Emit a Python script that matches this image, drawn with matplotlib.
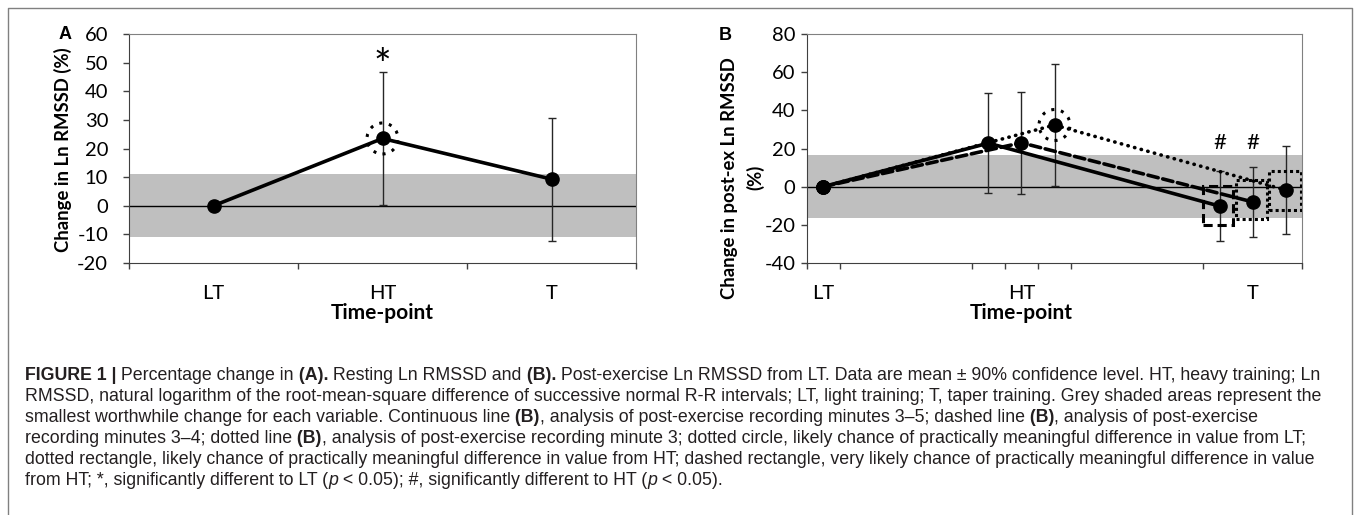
import numpy as np
import matplotlib
matplotlib.use('Agg')
import matplotlib.pyplot as plt
from matplotlib import patches, transforms
from matplotlib.lines import Line2D

W, H, DPI = 1357, 515, 100
CHART_FONT = 'Lato'
CAPTION_FONT = 'Liberation Sans'
plt.rcParams['axes.unicode_minus'] = False

# Panel A: resting Ln RMSSD, % change from LT (mean, 90% CL)
A_CATS = ['LT', 'HT', 'T']
A_MEAN = [0.0, 23.5, 9.3]
A_CI = [0.0, 23.2, 21.5]
A_SWC = 11.0
A_STAR = 52.7

# Panel B: post-exercise Ln RMSSD, x axis has 15 category slots
B_CATS = ['LT', 'HT', 'T']
B_CAT_SLOT = [0.5, 6.5, 13.5]
B_TICKS = [0, 1, 5, 6, 7, 8, 12, 15]
B_SLOT_35 = [0.5, 5.5, 12.5]
B_MEAN_35 = [0.0, 22.8, -10.2]
B_CI_35 = [0.0, 26.3, 18.2]
B_SLOT_34 = [0.5, 6.5, 13.5]
B_MEAN_34 = [0.0, 23.0, -8.0]
B_CI_34 = [0.0, 26.6, 18.3]
B_SLOT_3 = [0.5, 7.5, 14.5]
B_MEAN_3 = [0.0, 32.3, -1.8]
B_CI_3 = [0.0, 31.8, 23.2]
B_SWC = 16.6
B_HASH_SLOT = [12.5, 13.5]
B_HASH_Y = 23.0
# rectangles: x0, x1, y0, y1, style
B_RECTS = [(12.0, 12.9, -20.1, 0.4, 'dashed'),
           (13.0, 13.92, -17.1, 3.5, 'dotted'),
           (14.0, 14.95, -12.2, 8.4, 'dotted')]

CAPTION = [
    [('FIGURE 1 |', 'bold', 'normal'), (' Percentage change in', 'normal', 'normal'), (' (A).', 'bold', 'normal'),
     (' Resting Ln RMSSD and', 'normal', 'normal'), (' (B).', 'bold', 'normal'),
     (' Post-exercise Ln RMSSD from LT. Data are mean \u00b1 90% confidence level. HT, heavy training; Ln', 'normal', 'normal')],
    [('RMSSD, natural logarithm of the root-mean-square difference of successive normal R-R intervals; LT, light training; T, taper training. Grey shaded areas represent the', 'normal', 'normal')],
    [('smallest worthwhile change for each variable. Continuous line', 'normal', 'normal'), (' (B)', 'bold', 'normal'),
     (', analysis of post-exercise recording minutes 3\u20135; dashed line', 'normal', 'normal'), (' (B)', 'bold', 'normal'),
     (', analysis of post-exercise', 'normal', 'normal')],
    [('recording minutes 3\u20134; dotted line', 'normal', 'normal'), (' (B)', 'bold', 'normal'),
     (', analysis of post-exercise recording minute 3; dotted circle, likely chance of practically meaningful difference in value from LT;', 'normal', 'normal')],
    [('dotted rectangle, likely chance of practically meaningful difference in value from HT; dashed rectangle, very likely chance of practically meaningful difference in value', 'normal', 'normal')],
    [('from HT; *, significantly different to LT (', 'normal', 'normal'), ('p', 'normal', 'italic'),
     (' < 0.05); #, significantly different to HT (', 'normal', 'normal'), ('p', 'normal', 'italic'),
     (' < 0.05).', 'normal', 'normal')],
]

DOTTED = (0, (0.1, 1.8))
DASHED = (0, (2.9, 1.3))
TICK_SIZE = 14.5
LABEL_SIZE = 13.3


def fx(x):
    return x / W


def fy(y):
    return 1 - y / H


def style_axes(ax, ypad):
    '''Excel-like frame and ticks'''
    for side in ('left', 'bottom'):
        ax.spines[side].set_color('#404040')
    for side in ('top', 'right'):
        ax.spines[side].set_color('#808080')
    ax.tick_params(axis='both', which='major', direction='out', length=4, width=1, color='#404040')
    ax.tick_params(axis='y', labelsize=TICK_SIZE, pad=ypad)
    ax.tick_params(axis='x', which='major', labelbottom=False)
    ax.tick_params(axis='x', which='minor', length=0, labelsize=TICK_SIZE, pad=15.5)
    for lab in ax.get_yticklabels() + ax.get_xticklabels(minor=True):
        lab.set_family(CHART_FONT)


def dotted_circle(fig, ax, x, y):
    '''Dotted circle of fixed size around a point'''
    trans = fig.dpi_scale_trans + transforms.ScaledTranslation(x, y, ax.transData)
    ax.add_patch(patches.Circle((0, 0), 0.155, transform=trans, fill=False,
                                lw=2.2, ls=(0, (1, 2.2)), color='black', zorder=4))


def draw_series(ax, x, mean, ci, ls):
    ax.errorbar(x[1:], mean[1:], yerr=ci[1:], fmt='none', ecolor='#262626',
                elinewidth=1, capsize=3, capthick=1, zorder=2)
    ax.plot(x, mean, color='black', lw=2.6, ls=ls, marker='o', ms=9.5,
            dash_capstyle='round', zorder=3)


def panel_a(fig):
    ax = fig.add_axes([fx(129), fy(263), fx(636) - fx(129), fy(34) - fy(263)])
    pos = np.arange(len(A_CATS)) + 0.5
    ax.axhspan(-A_SWC, A_SWC, color='#bfbfbf', lw=0, zorder=0)
    ax.axhline(0, color='black', lw=1, zorder=1)
    draw_series(ax, pos, A_MEAN, A_CI, '-')
    dotted_circle(fig, ax, pos[1], A_MEAN[1])
    ax.annotate('*', (pos[1], A_STAR), xytext=(0, -9), textcoords='offset points',
                ha='center', va='center', fontsize=30, family=CHART_FONT)
    ax.set_xlim(0, len(A_CATS))
    ax.set_ylim(-20, 60)
    ax.set_yticks(range(-20, 61, 10))
    ax.set_xticks(range(len(A_CATS) + 1))
    ax.set_xticks(pos, A_CATS, minor=True)
    style_axes(ax, 11)
    fig.text(fx(62.5), fy(150), 'Change in Ln RMSSD (%)', rotation=90, ha='center', va='center',
             fontsize=LABEL_SIZE, fontweight='bold', family=CHART_FONT)
    fig.text(fx(382), fy(313), 'Time-point', ha='center', va='center',
             fontsize=15, fontweight='bold', family=CHART_FONT)
    fig.text(fx(65), fy(34.5), 'A', ha='center', va='center', fontsize=13,
             fontweight='bold', family=CAPTION_FONT)


def panel_b(fig):
    ax = fig.add_axes([fx(806.7), fy(263), fx(1302.3) - fx(806.7), fy(34) - fy(263)])
    ax.axhspan(-B_SWC, B_SWC, color='#bfbfbf', lw=0, zorder=0)
    ax.axhline(0, color='black', lw=1, zorder=1)
    draw_series(ax, B_SLOT_35, B_MEAN_35, B_CI_35, '-')
    draw_series(ax, B_SLOT_34, B_MEAN_34, B_CI_34, DASHED)
    draw_series(ax, B_SLOT_3, B_MEAN_3, B_CI_3, DOTTED)
    dotted_circle(fig, ax, B_SLOT_3[1], B_MEAN_3[1])
    for x0, x1, y0, y1, kind in B_RECTS:
        ls = (0, (3, 1.6)) if kind == 'dashed' else (0, (1, 1))
        ax.add_patch(patches.Rectangle((x0, y0), x1 - x0, y1 - y0, fill=False,
                                       lw=2.2, ls=ls, color='black', zorder=4))
    for x in B_HASH_SLOT:
        ax.text(x, B_HASH_Y, '#', ha='center', va='center', fontsize=16, family=CHART_FONT)
    ax.set_xlim(0, 15)
    ax.set_ylim(-40, 80)
    ax.set_yticks(range(-40, 81, 20))
    ax.set_xticks(B_TICKS)
    ax.set_xticks(B_CAT_SLOT, B_CATS, minor=True)
    style_axes(ax, 4)
    fig.text(fx(730), fy(178), 'Change in post-ex Ln RMSSD', rotation=90, ha='center', va='center',
             fontsize=LABEL_SIZE, fontweight='bold', family=CHART_FONT)
    fig.text(fx(755), fy(177), '(%)', rotation=90, ha='center', va='center',
             fontsize=LABEL_SIZE, fontweight='bold', family=CHART_FONT)
    fig.text(fx(1021.7), fy(313), 'Time-point', ha='center', va='center',
             fontsize=15, fontweight='bold', family=CHART_FONT)
    fig.text(fx(725), fy(35.5), 'B', ha='center', va='center', fontsize=13,
             fontweight='bold', family=CAPTION_FONT)


def caption(fig, x0=25, y0=380, step=21, size=12.75, color='#231f20'):
    '''Caption with mixed bold/italic runs, laid out run by run'''
    renderer = fig.canvas.get_renderer()
    for i, line in enumerate(CAPTION):
        x = x0
        for txt, weight, style in line:
            t = fig.text(fx(x), fy(y0 + i * step), txt, ha='left', va='baseline', fontsize=size,
                         fontweight=weight, fontstyle=style, family=CAPTION_FONT, color=color)
            x += t.get_window_extent(renderer).width


def main():
    fig = plt.figure(figsize=(W / DPI, H / DPI), dpi=DPI)
    fig.add_artist(Line2D([fx(8), fx(8), fx(1352), fx(1352)], [0, fy(8), fy(8), 0],
                          transform=fig.transFigure, color='#808080', lw=1))
    panel_a(fig)
    panel_b(fig)
    caption(fig)
    fig.savefig('out.png', dpi=DPI)


if __name__ == '__main__':
    main()
